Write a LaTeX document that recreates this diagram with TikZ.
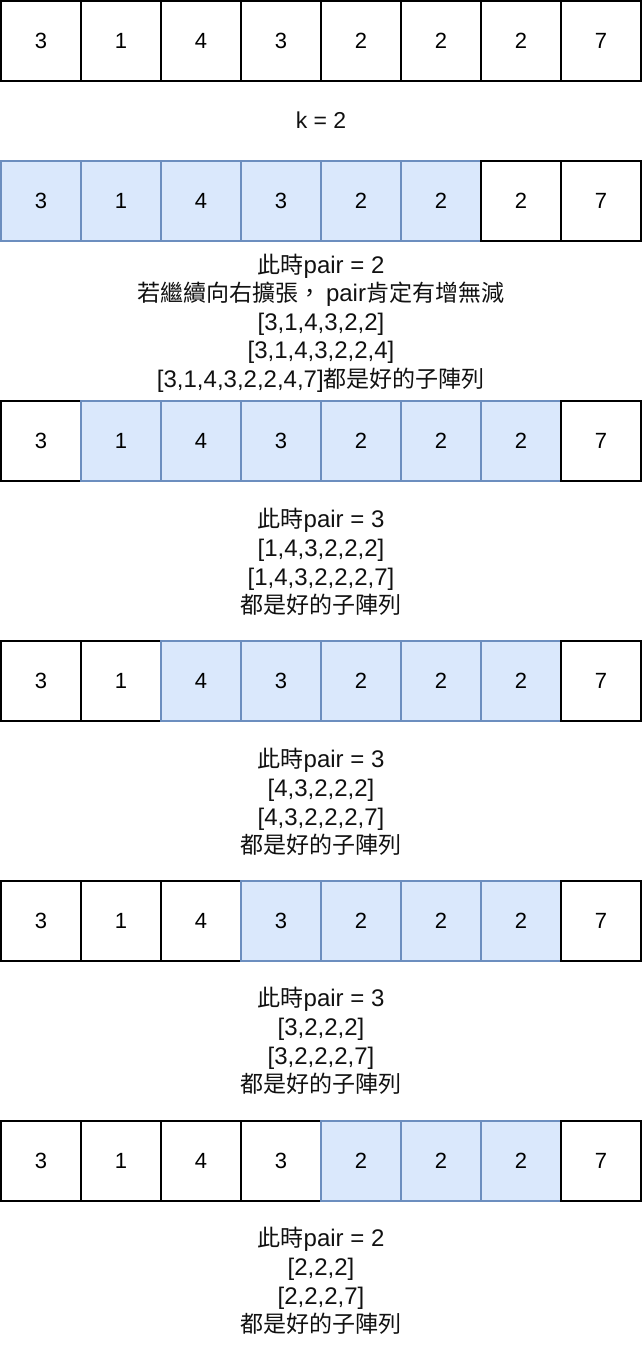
\documentclass[tikz,border=0pt]{standalone}
\usepackage{fontspec}
\setmainfont{Liberation Sans}
\newfontfamily\cjk[Scale=0.96]{Noto Sans CJK TC}
\definecolor{bfill}{HTML}{DAE8FC}
\definecolor{bline}{HTML}{6C8EBF}
\definecolor{tcol}{HTML}{111111}
\tikzset{
  cellbase/.style={minimum width=80pt,minimum height=80pt,inner sep=0pt,line width=1.3pt,font=\fontsize{22}{26}\selectfont,text=black},
  wcell/.style={cellbase,draw=black,fill=white},
  bcell/.style={cellbase,draw=bline,fill=bfill},
  note/.style={align=center,inner sep=0pt,text=tcol,font=\fontsize{24}{28.6}\selectfont}
}
\newcommand\cellrow[4]{%
  \foreach \v [count=\i from 0] in {3,1,4,3,2,2,2,7}{%
    \ifnum\i<#3\relax
      \node[wcell] (#1c\i) at ({41+80*\i},#2) {\v};%
    \else\ifnum\i>#4\relax
      \node[wcell] (#1c\i) at ({41+80*\i},#2) {\v};%
    \else
      \node[bcell] (#1c\i) at ({41+80*\i},#2) {\v};%
    \fi\fi
  }%
}
\begin{document}
\begin{tikzpicture}[x=1pt,y=-1pt]
\useasboundingbox (0,0) rectangle (642,1362);
\cellrow{ra}{41}{9}{9}
\node[note,font=\fontsize{23}{28.6}\selectfont] (k) at (321,120) {k = 2};
\cellrow{rb}{201}{0}{5}
\node[note] (tb) at (321,323) {{\cjk 此時}pair = 2\\{\cjk 若繼續向右擴張，}\,pair{\cjk 肯定有增無減}\\{}[3,1,4,3,2,2]\\{}[3,1,4,3,2,2,4]\\{}[3,1,4,3,2,2,4,7]{\cjk 都是好的子陣列}};
\cellrow{rc}{441}{1}{6}
\node[note] (tc) at (321,562) {{\cjk 此時}pair = 3\\{}[1,4,3,2,2,2]\\{}[1,4,3,2,2,2,7]\\{\cjk 都是好的子陣列}};
\cellrow{rd}{681}{2}{6}
\node[note] (td) at (321,802) {{\cjk 此時}pair = 3\\{}[4,3,2,2,2]\\{}[4,3,2,2,2,7]\\{\cjk 都是好的子陣列}};
\cellrow{re}{921}{3}{6}
\node[note] (te) at (321,1041) {{\cjk 此時}pair = 3\\{}[3,2,2,2]\\{}[3,2,2,2,7]\\{\cjk 都是好的子陣列}};
\cellrow{rf}{1161}{4}{6}
\node[note] (tf) at (321,1281) {{\cjk 此時}pair = 2\\{}[2,2,2]\\{}[2,2,2,7]\\{\cjk 都是好的子陣列}};
\end{tikzpicture}
\end{document}
